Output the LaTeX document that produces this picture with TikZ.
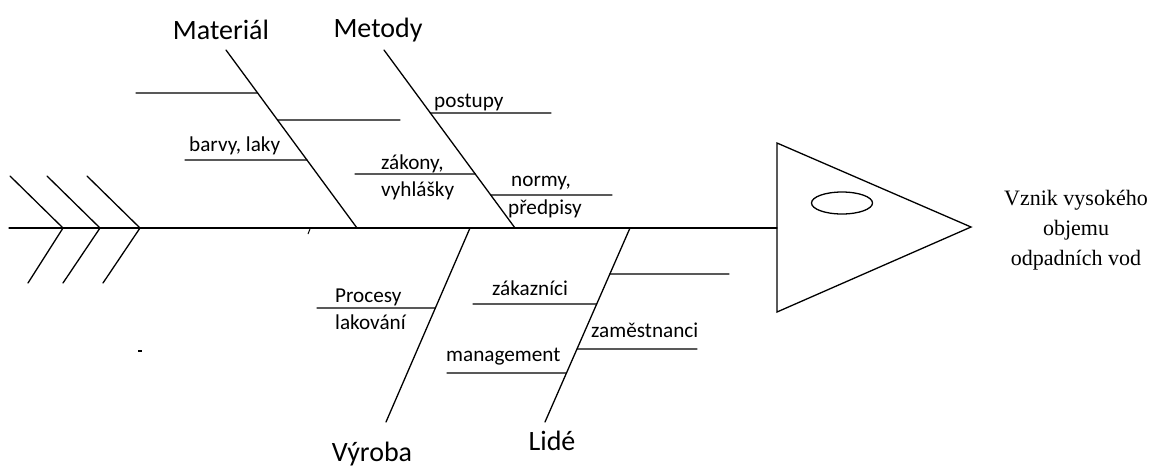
\documentclass[tikz,border=0pt]{standalone}
\usepackage{fontspec}
\usetikzlibrary{calc}
\setmainfont{Carlito}
\newfontfamily\seriffont{Liberation Serif}
\begin{document}
\begin{tikzpicture}[x=1pt,y=-1pt,
  bone/.style={line width=1.3pt, line cap=round},
  big/.style={font=\fontsize{28}{30}\selectfont, inner sep=0pt},
  small/.style={font=\fontsize{21.2}{24}\selectfont, inner sep=0pt, anchor=west},
  result/.style={font=\seriffont\fontsize{22}{30}\selectfont, inner sep=0pt, align=center}]
\useasboundingbox (0,0) rectangle (1152,467);

% spine and tail
\coordinate (s0) at (9,228);
\coordinate (s1) at (777,228);
\draw[bone] (s0) -- (s1);
\foreach \i/\x/\u/\l in {1/63/10/28, 2/100/47/63, 3/140/87/103}{
  \coordinate (t\i) at (\x,228);
  \coordinate (tu\i) at (\u,176);
  \coordinate (tl\i) at (\l,283);
  \draw[bone] (tu\i) -- (t\i) -- (tl\i);
}

% main bones
\coordinate (matTop) at (226,50);  \coordinate (matBot) at (357,228);
\coordinate (metTop) at (384,50);  \coordinate (metBot) at (515,228);
\coordinate (vyrTop) at (470,228); \coordinate (vyrBot) at (386,422);
\coordinate (lidTop) at (630,228); \coordinate (lidBot) at (545,422);
\draw[bone] (matTop) -- (matBot);
\draw[bone] (metTop) -- (metBot);
\draw[bone] (vyrTop) -- (vyrBot);
\draw[bone] (lidTop) -- (lidBot);

% Material branches
\coordinate (m1a) at (136,93);  \coordinate (m1b) at ($(matTop)!0.241!(matBot)$);
\coordinate (m2a) at ($(matTop)!0.393!(matBot)$); \coordinate (m2b) at (400,120);
\coordinate (m3a) at (185,160); \coordinate (m3b) at ($(matTop)!0.618!(matBot)$);
\draw[bone] (m1a) -- (m1b);
\draw[bone] (m2a) -- (m2b);
\draw[bone] (m3a) -- (m3b);

% Metody branches
\coordinate (e1a) at ($(metTop)!0.354!(metBot)$); \coordinate (e1b) at (551,113);
\coordinate (e2a) at (355,174); \coordinate (e2b) at ($(metTop)!0.697!(metBot)$);
\coordinate (e3a) at ($(metTop)!0.815!(metBot)$); \coordinate (e3b) at (612,195);
\draw[bone] (e1a) -- (e1b);
\draw[bone] (e2a) -- (e2b);
\draw[bone] (e3a) -- (e3b);

% Vyroba branch
\coordinate (v1a) at (317,308); \coordinate (v1b) at ($(vyrTop)!0.412!(vyrBot)$);
\draw[bone] (v1a) -- (v1b);

% Lide branches
\coordinate (l1a) at ($(lidTop)!0.237!(lidBot)$); \coordinate (l1b) at (729,274);
\coordinate (l2a) at (473,304); \coordinate (l2b) at ($(lidTop)!0.392!(lidBot)$);
\coordinate (l3a) at ($(lidTop)!0.624!(lidBot)$); \coordinate (l3b) at (697,349);
\coordinate (l4a) at (447,373); \coordinate (l4b) at ($(lidTop)!0.747!(lidBot)$);
\draw[bone] (l1a) -- (l1b);
\draw[bone] (l2a) -- (l2b);
\draw[bone] (l3a) -- (l3b);
\draw[bone] (l4a) -- (l4b);

% small stray marks
\coordinate (k1) at (310,229); \coordinate (k2) at (308,234);
\draw[line width=1pt] (k1) -- (k2);
\coordinate (d1) at (138,351); \coordinate (d2) at (142,351);
\draw[line width=1.2pt] (d1) -- (d2);

% head
\coordinate (h1) at (777,143); \coordinate (h2) at (971,227); \coordinate (h3) at (777,312);
\draw[bone, line join=miter] (h1) -- (h2) -- (h3) -- cycle;
\draw[line width=1.3pt] (842,203) ellipse [x radius=30.5, y radius=11];

% category labels
\node[big] (lMat) at (221,30) {Materiál};
\node[big] (lMet) at (378,30) {Metody};
\node[big] (lVyr) at (372,454) {Výroba};
\node[big] (lLid) at (552,441) {Lidé};

% cause labels
\node[small] (c1) at (189,146) {barvy, laky};
\node[small] (c2) at (434,102) {postupy};
\node[small] (c3) at (381,164) {zákony,};
\node[small] (c4) at (381,191) {vyhlášky};
\node[small] (c5) at (511,183) {normy,};
\node[small] (c6) at (508,209) {předpisy};
\node[small] (c7) at (335,297) {Procesy};
\node[small] (c8) at (335,322) {lakování};
\node[small] (c9) at (492,288) {zákazníci};
\node[small] (c10) at (591,330) {zaměstnanci};
\node[small] (c11) at (446,357) {management};

% effect
\node[result] (eff) at (1076,230) {Vznik vysokého\\objemu\\odpadních vod};
\end{tikzpicture}
\end{document}
